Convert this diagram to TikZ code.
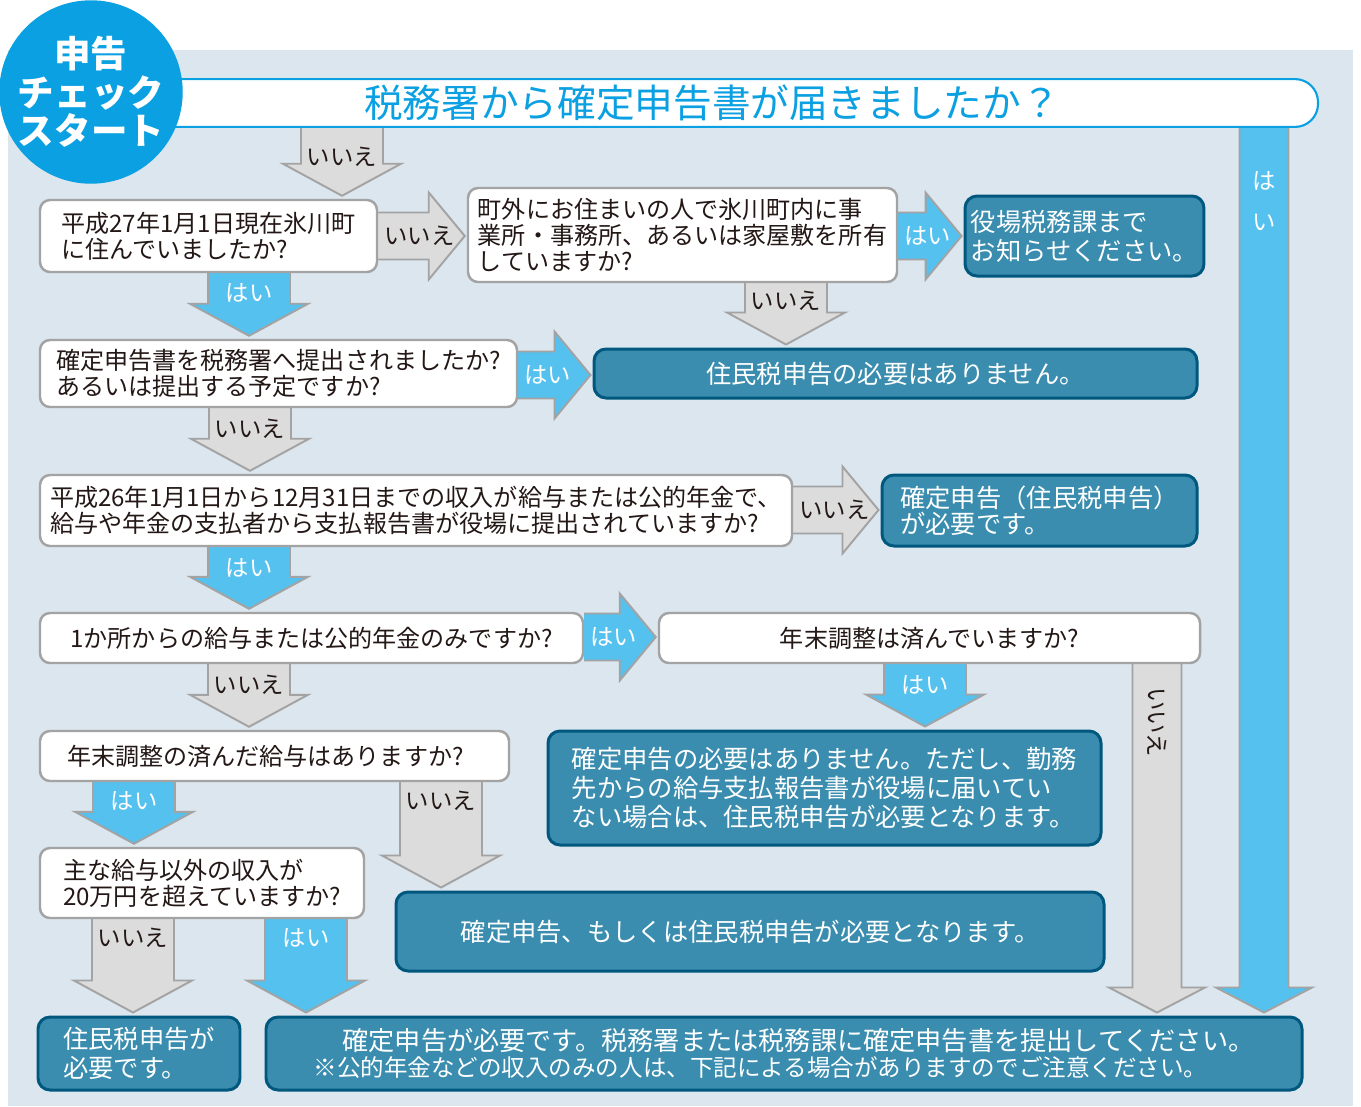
\documentclass[tikz,border=0pt]{standalone}
\usepackage{fontspec}
\setmainfont{Noto Sans CJK JP}
\usetikzlibrary{calc}

\definecolor{panel}{HTML}{DCE6EE}
\definecolor{startblue}{HTML}{0AA0E2}
\definecolor{ink}{HTML}{231815}
\definecolor{boxline}{HTML}{A3A3A3}
\definecolor{resfill}{HTML}{3A8DAE}
\definecolor{resline}{HTML}{00587F}
\definecolor{nofill}{HTML}{DCDCDC}
\definecolor{yesfill}{HTML}{55C1EF}

\newcommand{\qfont}{\fontsize{13.7}{15}\selectfont}
\newcommand{\rfont}{\fontsize{14.4}{16.4}\selectfont}
\newcommand{\lfont}{\fontsize{13.3}{15}\selectfont}

\pgfdeclarelayer{back}
\pgfdeclarelayer{arrows}
\pgfsetlayers{back,arrows,main}

\tikzset{
  wh/.style 2 args={minimum width=#1*0.02cm, minimum height=#2*0.02cm},
  qbox/.style={draw=boxline, line width=1.4pt, fill=white, rounded corners=0.2cm,
    text=ink, align=left, font=\qfont},
  rbox/.style={draw=resline, line width=1.7pt, fill=resfill, rounded corners=0.24cm,
    text=white, align=left, font=\rfont},
  banner/.style={draw=startblue, line width=1.2pt, fill=white, rounded corners=0.46cm,
    text=startblue, font=\fontsize{22}{24}\selectfont},
  startdot/.style={circle, fill=startblue, text=white, align=center, inner sep=0pt,
    font=\bfseries\fontsize{20.8}{22}\selectfont},
  noarr/.style={fill=nofill, draw=boxline, line width=1.1pt},
  yesarr/.style={fill=yesfill, draw=boxline, line width=1.1pt},
  nolab/.style={text=ink, font=\lfont, inner sep=1pt},
  yeslab/.style={text=white, font=\lfont, inner sep=1pt},
}

% arrow size: shaft half width, head half width, head length
\newcommand{\arrsize}[3]{\def\ash{#1}\def\ahh{#2}\def\ahl{#3}}
% block arrow down: kind, x, from, to, label dy, label options, label
\newcommand{\arrdown}[7]{%
  \coordinate (ax) at (#2,0);
  \coordinate (atop) at (#3.south -| ax);
  \coordinate (atip) at ($(#4.north -| ax)+(0,-3)$);
  \path[#1arr] ($(atop)+(-\ash,0)$) -- ($(atip)+(-\ash,-\ahl)$) -- ($(atip)+(-\ahh,-\ahl)$)
    -- (atip) -- ($(atip)+(\ahh,-\ahl)$) -- ($(atip)+(\ash,-\ahl)$) -- ($(atop)+(\ash,0)$);
  \node[#1lab, #6] (lab#3#4) at ($(atop)+(0,#5)$) {#7};
}
% block arrow right: kind, y, from, to, label
\newcommand{\arrright}[5]{%
  \coordinate (ay) at (0,#2);
  \coordinate (atop) at (#3.east |- ay);
  \coordinate (atip) at ($(#4.west |- ay)+(-2,0)$);
  \path[#1arr] ($(atop)+(0,-\ash)$) -- ($(atip)+(-\ahl,-\ash)$) -- ($(atip)+(-\ahl,-\ahh)$)
    -- (atip) -- ($(atip)+(-\ahl,\ahh)$) -- ($(atip)+(-\ahl,\ash)$) -- ($(atop)+(0,\ash)$);
  \node[#1lab, anchor=west] (lab#3#4) at ($(atop)+(4,0)$) {#5};
}

\begin{document}
\begin{tikzpicture}[x=0.02cm, y=-0.02cm]
\useasboundingbox (0,0) rectangle (1361,1106);
\begin{pgfonlayer}{back}
  \fill[white] (0,0) rectangle (1361,1106);
  \fill[panel] (8,50) rectangle (1353,1106);
\end{pgfonlayer}

% title and start
\node[banner, wh={1212}{46}] (title) at (712,103) {税務署から確定申告書が届きましたか？};
\node[startdot, minimum size=3.66cm] (start) at (91,92) {申告\\チェック\\スタート};

% questions
\node[qbox, wh={337}{72}] (q1) at (208.5,236) {平成27年1月1日現在氷川町\\に住んでいましたか?};
\node[qbox, wh={429}{94}] (q1out) at (682.5,235)
  {町外にお住まいの人で氷川町内に事\\業所・事務所、あるいは家屋敷を所有\\していますか?};
\node[qbox, wh={477}{67}] (q2) at (278.5,373.5)
  {確定申告書を税務署へ提出されましたか?\\あるいは提出する予定ですか?};
\node[qbox, wh={752}{71}] (q3) at (416,510.5)
  {平成26年1月1日から12月31日までの収入が給与または公的年金で、\\給与や年金の支払者から支払報告書が役場に提出されていますか?};
\node[qbox, wh={543}{50}] (q4) at (311.5,638) {1か所からの給与または公的年金のみですか?};
\node[qbox, wh={541}{50}] (q5) at (929.5,638) {年末調整は済んでいますか?};
\node[qbox, wh={469}{50}, text width=8.3cm] (q6) at (274.5,756) {年末調整の済んだ給与はありますか?};
\node[qbox, wh={324}{70}] (q7) at (202,883) {主な給与以外の収入が\\20万円を超えていますか?};

% results
\node[rbox, wh={225}{80}] (res1) at (1084.5,236) {役場税務課まで\\お知らせください。};
\node[rbox, wh={603}{49}] (res2) at (895.5,373.5) {住民税申告の必要はありません。};
\node[rbox, wh={315}{71}, font=\fontsize{14.4}{15}\selectfont] (res3) at (1039.5,510.5)
  {確定申告（住民税申告）\\が必要です。};
\node[rbox, wh={553}{114}] (res4) at (824.5,788)
  {確定申告の必要はありません。ただし、勤務\\先からの給与支払報告書が役場に届いてい\\ない場合は、住民税申告が必要となります。};
\node[rbox, wh={708}{79}] (res5) at (750,931.5) {確定申告、もしくは住民税申告が必要となります。};
\node[rbox, wh={202}{73}] (res6) at (139,1053.5) {住民税申告が\\必要です。};
\node[rbox, wh={1036}{73}, font=\fontsize{14.9}{14.8}\selectfont] (res7) at (784,1053.5)
  {\hspace*{0.58cm}確定申告が必要です。税務署または税務課に確定申告書を提出してください。\\
   {\fontsize{13.4}{14}\selectfont ※公的年金などの収入のみの人は、下記による場合がありますのでご注意ください。}};

% arrows
\begin{pgfonlayer}{arrows}
  \arrsize{41}{59}{32}
  \arrdown{no}{342}{title}{q1}{29}{}{いいえ}
  \arrdown{yes}{249}{q1}{q2}{20}{}{はい}
  \arrdown{no}{786}{q1out}{res2}{18}{}{いいえ}
  \arrdown{no}{250}{q2}{q3}{21}{}{いいえ}
  \arrdown{yes}{249}{q3}{q4}{21}{}{はい}
  \arrdown{no}{249}{q4}{q6}{21}{}{いいえ}
  \arrdown{yes}{925}{q5}{res4}{21}{}{はい}
  \arrdown{yes}{134}{q6}{q7}{19}{}{はい}
  \arrdown{no}{441}{q6}{res5}{19}{}{いいえ}
  \arrdown{no}{133}{q7}{res6}{19}{}{いいえ}
  \arrdown{yes}{306}{q7}{res7}{19}{}{はい}
  \arrsize{24.5}{48}{25}
  \arrdown{no}{1157}{q5}{res7}{58}{rotate=-90}{いいえ}
  \arrdown{yes}{1264}{title}{res7}{73}{align=center}{は\\[8pt]い}
  \arrsize{23.5}{43.5}{36}
  \arrright{no}{236}{q1}{q1out}{いいえ}
  \arrright{yes}{236}{q1out}{res1}{はい}
  \arrright{yes}{375}{q2}{res2}{はい}
  \arrright{no}{510}{q3}{res3}{いいえ}
  \arrright{yes}{637}{q4}{q5}{はい}
\end{pgfonlayer}
\end{tikzpicture}
\end{document}
